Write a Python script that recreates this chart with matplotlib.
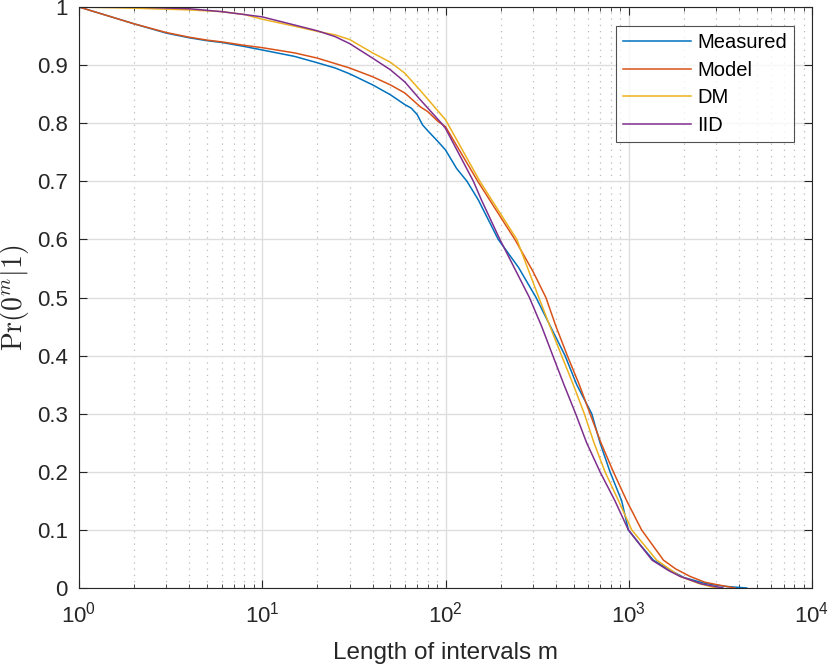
import numpy as np
import matplotlib
matplotlib.use("Agg")
import matplotlib.pyplot as plt
from matplotlib.ticker import LogLocator, NullFormatter

# Data (m, Pr)
meas_m = [1, 2, 3, 4, 5, 6, 8, 10, 15, 20, 25, 30, 40, 50, 60, 65, 70, 75, 80, 90, 100, 115, 131, 151, 194, 250, 312, 374, 449, 520, 628, 697, 790, 915, 995, 1170, 1362, 1700, 2000, 2600, 3300, 4400]
meas_p = [1.0, 0.971, 0.955, 0.947, 0.942, 0.939, 0.932, 0.926, 0.915, 0.904, 0.895, 0.885, 0.866, 0.849, 0.832, 0.826, 0.815, 0.797, 0.787, 0.770, 0.754, 0.722, 0.700, 0.668, 0.600, 0.552, 0.500, 0.450, 0.400, 0.350, 0.300, 0.250, 0.200, 0.150, 0.100, 0.072, 0.048, 0.030, 0.018, 0.008, 0.003, 0.0]

model_m = [1, 2, 3, 4, 5, 6, 8, 10, 15, 20, 30, 40, 50, 60, 73, 80, 91, 100, 150, 239, 300, 353, 401, 462, 537, 615, 705, 824, 975, 1175, 1546, 1800, 2158, 2600, 3000, 3800]
model_p = [1.0, 0.971, 0.956, 0.948, 0.943, 0.940, 0.934, 0.930, 0.921, 0.912, 0.895, 0.880, 0.866, 0.852, 0.828, 0.820, 0.803, 0.794, 0.700, 0.600, 0.545, 0.500, 0.450, 0.400, 0.350, 0.300, 0.250, 0.200, 0.150, 0.100, 0.048, 0.033, 0.020, 0.010, 0.006, 0.0]

dm_m = [1, 2, 4, 6, 8, 10, 15, 20, 25, 30, 40, 50, 60, 73, 100, 154, 245, 323, 372, 430, 498, 572, 646, 742, 880, 1038, 1420, 1905, 2400, 3000]
dm_p = [1.0, 0.998, 0.995, 0.992, 0.987, 0.979, 0.967, 0.958, 0.952, 0.944, 0.921, 0.905, 0.886, 0.856, 0.806, 0.700, 0.600, 0.500, 0.450, 0.400, 0.350, 0.300, 0.250, 0.200, 0.150, 0.100, 0.048, 0.020, 0.008, 0.0]

iid_m = [1, 2, 4, 6, 8, 10, 15, 20, 25, 30, 40, 50, 60, 73, 95, 100, 142, 157, 198, 287, 335, 385, 443, 513, 589, 697, 841, 995, 1340, 1650, 1905, 2500, 3267]
iid_p = [1.0, 1.0, 0.997, 0.992, 0.987, 0.983, 0.969, 0.959, 0.949, 0.937, 0.912, 0.892, 0.871, 0.840, 0.800, 0.791, 0.700, 0.668, 0.600, 0.500, 0.450, 0.400, 0.350, 0.300, 0.250, 0.200, 0.150, 0.100, 0.048, 0.030, 0.020, 0.007, 0.0]

series = [
    ("Measured", meas_m, meas_p, "#0072BD"),
    ("Model", model_m, model_p, "#D95319"),
    ("DM", dm_m, dm_p, "#EDB120"),
    ("IID", iid_m, iid_p, "#7E2F8E"),
]

plt.rcParams['font.family'] = ['Liberation Sans', 'DejaVu Sans']
plt.rcParams['mathtext.fontset'] = 'cm'

fig = plt.figure(figsize=(8.3, 6.66), dpi=100)
ax = fig.add_axes([79/830, 1 - 588/666, (812-79)/830, (588-7)/666])

for name, m, p, c in series:
    ax.plot(m, p, color=c, lw=1.1, label=name)

ax.set_xscale('log')
ax.set_xlim(1, 1e4)
ax.set_ylim(0, 1)
ax.set_yticks(np.arange(0, 1.01, 0.1))
ax.set_yticklabels(['0', '0.1', '0.2', '0.3', '0.4', '0.5', '0.6', '0.7', '0.8', '0.9', '1'])
ax.xaxis.set_minor_locator(LogLocator(base=10, subs=np.arange(2, 10), numticks=20))
ax.xaxis.set_minor_formatter(NullFormatter())

ax.grid(True, which='major', color='#dedede', lw=1.0, ls='-')
ax.grid(True, which='minor', axis='x', color='#bbbbbb', lw=0.9, ls=(0, (1, 4)))
ax.set_axisbelow(True)

ax.tick_params(which='both', direction='in', top=True, right=True, labelsize=16, colors='#262626')
ax.tick_params(axis='y', which='major', pad=8)
ax.tick_params(axis='x', which='major', pad=10)
ax.tick_params(which='major', length=6)
ax.tick_params(which='minor', length=3)
for s in ax.spines.values():
    s.set_color('#262626')
    s.set_linewidth(0.8)

ax.set_xlabel('Length of intervals m', fontsize=17.5, color='#262626', labelpad=10)
ax.set_ylabel(r'$\mathrm{Pr}(0^m|1)$', fontsize=20, color='#262626', va='center')
ax.yaxis.set_label_coords((15 - 79) / 733, 0.5)

leg = ax.legend(loc='upper right', fontsize=14.5, frameon=True, fancybox=False,
                edgecolor='#262626', handlelength=3.4, handletextpad=0.3,
                borderpad=0.35, labelspacing=0.43, borderaxespad=0,
                bbox_to_anchor=((794-79)/733, (588-26)/581))
leg.get_frame().set_linewidth(0.8)

fig.savefig('out.png', dpi=100)
